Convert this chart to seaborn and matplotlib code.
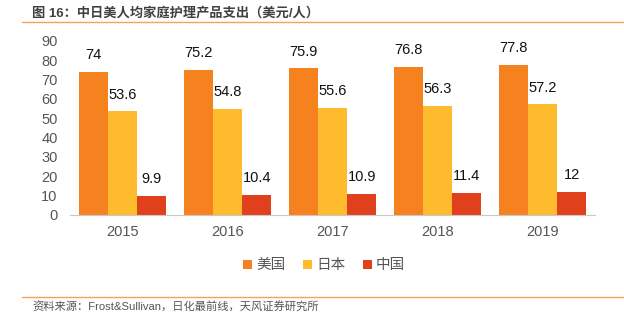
import matplotlib
matplotlib.use("Agg")
import matplotlib.pyplot as plt
import seaborn as sns
import pandas as pd
from matplotlib.lines import Line2D

years = ["2015", "2016", "2017", "2018", "2019"]
series = ["美国", "日本", "中国"]
usa = [74, 75.2, 75.9, 76.8, 77.8]
japan = [53.6, 54.8, 55.6, 56.3, 57.2]
china = [9.9, 10.4, 10.9, 11.4, 12]
colors = ["#F5821F", "#FDBB2D", "#E0401C"]

sns.set_theme(style="white")
plt.rcParams['font.family'] = ['Liberation Sans', 'Noto Sans CJK SC', 'DejaVu Sans']

df = pd.DataFrame({
    "year": years * 3,
    "country": [s for s in series for _ in years],
    "value": usa + japan + china,
})

fig = plt.figure(figsize=(6.24, 3.28), dpi=100)
ax = fig.add_axes([70/624, 1 - 215/328, 525/624, 174/328])
sns.barplot(data=df, x="year", y="value", hue="country", hue_order=series,
            palette=colors, width=0.833, saturation=1, ax=ax, legend=True,
            edgecolor="none", linewidth=0)

for cont in ax.containers:
    ax.bar_label(cont, labels=[f"{v:g}" for v in cont.datavalues], padding=7,
                 fontsize=10.5, color="#111111")

ax.set_xlim(-0.5, 4.5)
ax.set_ylim(0, 90)
ax.set_yticks(range(0, 91, 10))
ax.set_xlabel("")
ax.set_ylabel("")
ax.tick_params(axis="y", labelsize=10.5, colors="#555555", length=0, pad=9)
ax.tick_params(axis="x", labelsize=10.5, colors="#555555", length=0, pad=7)
for s in ["top", "right", "left"]:
    ax.spines[s].set_visible(False)
ax.spines["bottom"].set_color("#C8C8C8")
ax.spines["bottom"].set_linewidth(0.8)

ax.legend(loc="center", bbox_to_anchor=(0.484, -0.29), ncol=3, frameon=False,
          fontsize=10.5, handlelength=0.6, handleheight=0.6, handletextpad=0.3,
          columnspacing=1.2, labelcolor="#555555")

fig.text(32/624, 1 - 13/328, "图 16：中日美人均家庭护理产品支出（美元/人）", fontsize=9.5,
         fontweight="bold", color="#404040", va="center", ha="left")
fig.add_artist(Line2D([22/624, 1.0], [1 - 22/328, 1 - 22/328], color="#F5A25A", lw=1.0))
fig.add_artist(Line2D([22/624, 1.0], [1 - 297/328, 1 - 297/328], color="#F5A25A", lw=1.0))
fig.text(32/624, 1 - 307/328, "资料来源：Frost&Sullivan，日化最前线，天风证券研究所", fontsize=8.1,
         color="#555555", va="center", ha="left")

fig.savefig("out.png", dpi=100)
